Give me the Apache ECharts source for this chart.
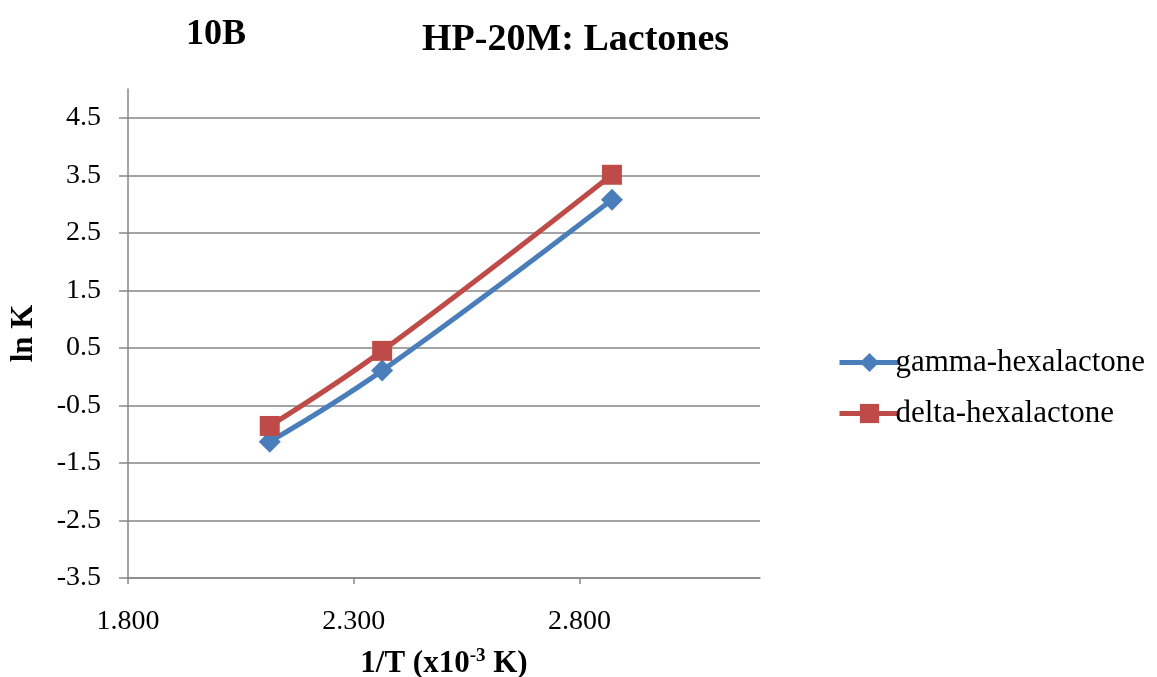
<!DOCTYPE html>
<html><head><meta charset="utf-8">
<script src="https://cdn.jsdelivr.net/npm/echarts@6/dist/echarts.min.js"></script>
<style>html,body{margin:0;padding:0;background:#fff}#c{width:1157px;height:677px}</style>
</head><body><div id="c"></div>
<script>
const invT = [2.114, 2.363, 2.872];
const gammaHexalactone = [-1.13, 0.105, 3.074];
const deltaHexalactone = [-0.857, 0.448, 3.509];
const seriesNames = ['gamma-hexalactone', 'delta-hexalactone'];
const seriesColors = ['#4a7ebb', '#be4b48'];
const titleMain = 'HP-20M: Lactones';
const titleLeft = '10B';
const yName = 'ln K';

const F = 'Liberation Serif';
const chart = echarts.init(document.getElementById('c'));
const pairs = a => invT.map((x, i) => [x, a[i]]);
chart.setOption({
  animation: false,
  title: [
    {text: titleLeft, left: 181, top: 12, textStyle: {fontFamily: F, fontSize: 36, fontWeight: 'bold', color: '#000'}},
    {text: titleMain, left: 417, top: 16, textStyle: {fontFamily: F, fontSize: 38, fontWeight: 'bold', color: '#000'}}
  ],
  legend: {
    orient: 'vertical', left: 832, top: 342, itemWidth: 60, itemHeight: 24, itemGap: 20,
    textStyle: {fontFamily: F, fontSize: 31, color: '#000', padding: [0,0,0,-9]},
    data: seriesNames.map((n, i) => ({name: n, lineStyle: {width: 5, color: seriesColors[i]}}))
  },
  grid: {left: 128, right: 397, top: 89, bottom: 99, containLabel: false, outerBoundsMode: 'none'},
  xAxis: {
    type: 'value', min: 1.8, max: 3.2, interval: 0.5,
    name: '{a|1/T (x10}{s|-3}{a| K)}', nameLocation: 'middle', nameGap: 69,
    nameTextStyle: {rich: {
      a: {fontFamily: F, fontSize: 31, fontWeight: 'bold', color: '#000'},
      s: {fontFamily: F, fontSize: 19, fontWeight: 'bold', color: '#000', verticalAlign: 'top', padding: [0,0,14,0]}
    }},
    axisLine: {onZero: false, lineStyle: {color: '#868686', width: 1.5}},
    axisTick: {show: true, length: 6, lineStyle: {color: '#868686', width: 1.5}},
    axisLabel: {fontFamily: F, fontSize: 28, color: '#000', margin: 30, showMaxLabel: false,
      formatter: v => v.toFixed(3)},
    splitLine: {show: false}
  },
  yAxis: {
    type: 'value', min: -3.5, max: 5, interval: 1,
    name: yName, nameLocation: 'middle', nameGap: 89, nameRotate: 90,
    nameTextStyle: {fontFamily: F, fontSize: 31, fontWeight: 'bold', color: '#000'},
    axisLine: {show: true, onZero: false, lineStyle: {color: '#868686', width: 1.5}},
    axisTick: {show: true, length: 9, lineStyle: {color: '#868686', width: 1.5}},
    axisLabel: {fontFamily: F, fontSize: 28, color: '#000', margin: 27, showMaxLabel: false,
      formatter: v => v.toFixed(1)},
    splitLine: {show: true, showMaxLine: false, lineStyle: {color: '#868686', width: 1.5}}
  },
  series: [
    {name: seriesNames[0], type: 'line', data: pairs(gammaHexalactone), smooth: 0.4,
     symbol: 'diamond', symbolSize: 22, color: seriesColors[0], lineStyle: {width: 5, color: seriesColors[0]},
     itemStyle: {color: seriesColors[0]}},
    {name: seriesNames[1], type: 'line', data: pairs(deltaHexalactone), smooth: 0.4,
     symbol: 'rect', symbolSize: 20, color: seriesColors[1], lineStyle: {width: 5, color: seriesColors[1]},
     itemStyle: {color: seriesColors[1]}}
  ]
});
</script></body></html>
